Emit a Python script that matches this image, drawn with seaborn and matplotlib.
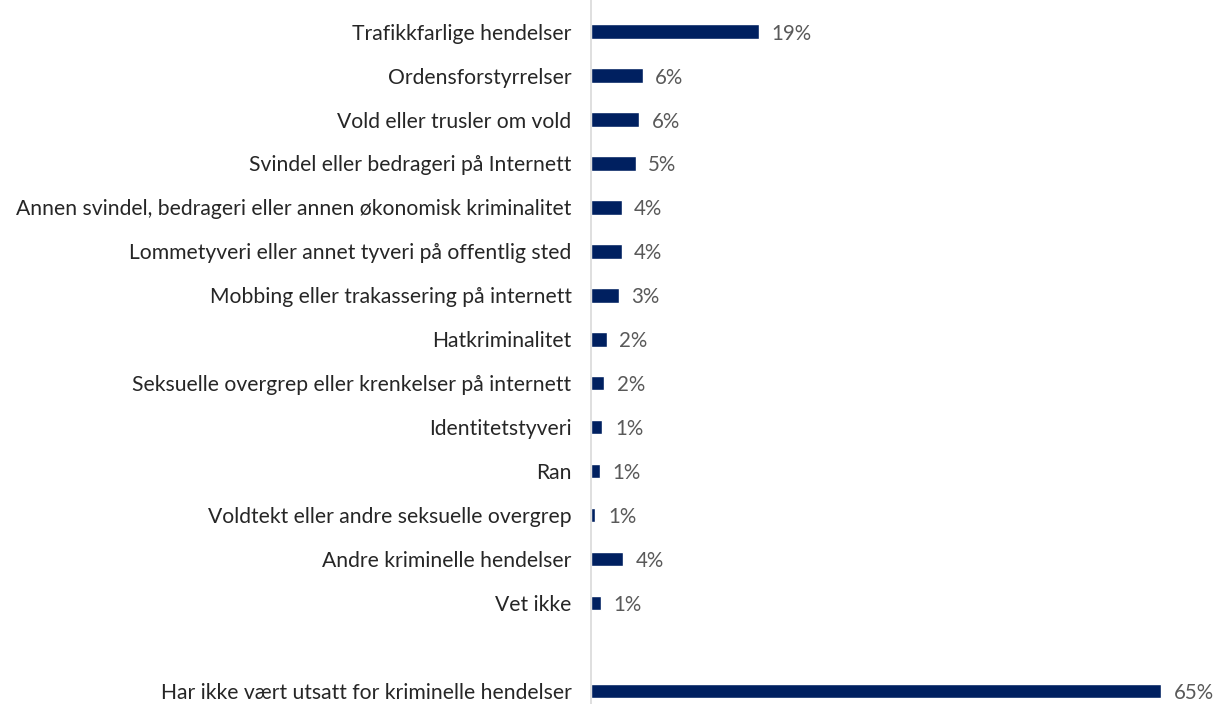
import matplotlib
matplotlib.use("Agg")
import matplotlib.pyplot as plt
import seaborn as sns
import pandas as pd

categories = [
    "Trafikkfarlige hendelser",
    "Ordensforstyrrelser",
    "Vold eller trusler om vold",
    "Svindel eller bedrageri på Internett",
    "Annen svindel, bedrageri eller annen økonomisk kriminalitet",
    "Lommetyveri eller annet tyveri på offentlig sted",
    "Mobbing eller trakassering på internett",
    "Hatkriminalitet",
    "Seksuelle overgrep eller krenkelser på internett",
    "Identitetstyveri",
    "Ran",
    "Voldtekt eller andre seksuelle overgrep",
    "Andre kriminelle hendelser",
    "Vet ikke",
    " ",
    "Har ikke vært utsatt for kriminelle hendelser",
]
values = [19.1, 5.9, 5.5, 5.1, 3.5, 3.5, 3.2, 1.8, 1.5, 1.3, 1.0, 0.5, 3.7, 1.1, None, 65.0]

df = pd.DataFrame({"kategori": categories, "andel": values})

sns.set_theme(style="white")
plt.rcParams["font.family"] = ["Lato", "DejaVu Sans"]

fig = plt.figure(figsize=(12.19, 7.04), dpi=100)
ax = fig.add_axes([591 / 1219, 0.0, 614 / 1219, 1.0])

sns.barplot(data=df, x="andel", y="kategori", order=categories, orient="h",
            color="#002060", saturation=1, width=0.33, ax=ax)

ax.set_xlim(0, 70)
ax.set_ylim(15.3, -0.72)
ax.set_xlabel("")
ax.set_ylabel("")
ax.set_xticks([])
ax.tick_params(axis="y", length=0, pad=14, labelsize=15.2, labelcolor="#262626")

for side in ["top", "right", "bottom"]:
    ax.spines[side].set_visible(False)
ax.spines["left"].set_color("#d9d9d9")
ax.spines["left"].set_linewidth(1.2)

for i, v in enumerate(values):
    if v is None:
        continue
    ax.annotate(f"{int(v + 0.5)}%", xy=(v, i), xytext=(9, 0), textcoords="offset points",
                va="center_baseline", ha="left", fontsize=14.8, color="#595959")

fig.savefig("out.png", dpi=100)
